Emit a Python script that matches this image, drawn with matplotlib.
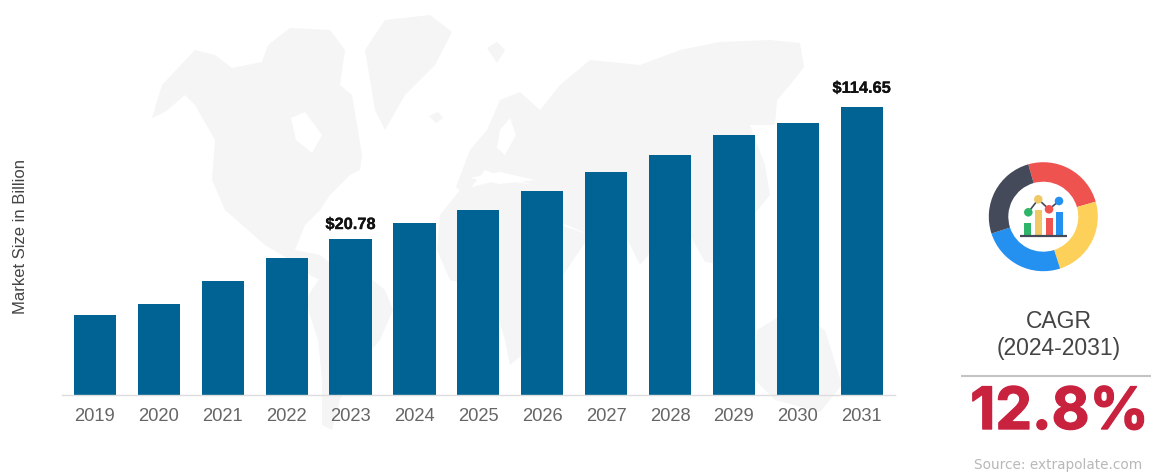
import numpy as np
import matplotlib
matplotlib.use('Agg')
import matplotlib.pyplot as plt
from matplotlib.patches import Polygon, Wedge, Rectangle
from matplotlib import patheffects

plt.rcParams['font.family'] = ['Liberation Sans', 'DejaVu Sans']

years = [2019, 2020, 2021, 2022, 2023, 2024, 2025, 2026, 2027, 2028, 2029, 2030, 2031]
market_size = [3.23, 4.63, 8.67, 14.47, 20.78, 27.28, 33.4, 43.9, 56.2, 69.0, 86.2, 97.8, 114.65]
label_gap = {2023: 5, 2031: 8}
cagr_period = '(2024-2031)'
cagr_value = '12.8%'

# continents for the backdrop, in pixels from the top left corner
north_america = [(152, 118), (162, 85), (195, 50), (215, 55), (232, 68), (262, 62), (268, 45),
                 (290, 28), (330, 30), (345, 50), (340, 85), (352, 95), (358, 130), (362, 155),
                 (360, 170), (350, 175), (330, 195), (320, 210), (305, 225), (295, 250),
                 (320, 255), (345, 275), (340, 290), (310, 275), (290, 260), (265, 245),
                 (225, 210), (212, 180), (215, 140), (195, 105), (185, 95), (165, 112)]
greenland = [(365, 50), (385, 20), (430, 15), (452, 32), (435, 65), (405, 95), (385, 130), (375, 110)]
iceland = [(429, 116), (438, 112), (443, 118), (436, 123)]
svalbard = [(487, 48), (497, 42), (505, 50), (497, 63)]
south_america = [(322, 275), (350, 262), (385, 290), (393, 310), (380, 340), (355, 370), (340, 400),
                 (332, 430), (322, 425), (322, 380), (318, 340), (305, 300)]
africa = [(440, 215), (460, 190), (500, 180), (535, 185), (560, 225), (590, 235), (570, 265),
          (545, 300), (540, 340), (510, 365), (505, 340), (490, 290), (450, 280), (437, 250)]
eurasia = [(456, 187), (470, 150), (487, 130), (500, 100), (520, 92), (540, 110), (560, 85),
           (590, 60), (640, 65), (680, 50), (720, 42), (770, 40), (800, 43), (804, 67),
           (790, 85), (777, 100), (775, 125), (750, 125), (765, 165), (770, 195), (745, 225),
           (725, 265), (705, 262), (690, 235), (665, 235), (640, 265), (620, 225), (590, 235),
           (560, 222), (535, 185), (505, 178), (485, 170), (465, 195)]
australia = [(757, 330), (790, 310), (825, 330), (842, 385), (820, 412), (775, 400), (750, 375)]
continents = [north_america, greenland, iceland, svalbard, south_america, africa, eurasia, australia]

# water inside the land masses
hudson_bay = [(291, 118), (305, 112), (322, 135), (312, 153), (296, 140)]
baltic = [(500, 130), (510, 118), (516, 135), (505, 155), (497, 148)]
mediterranean = [(470, 178), (500, 172), (535, 180), (500, 184)]
inland_water = [hudson_bay, baltic, mediterranean]

fig = plt.figure(figsize=(11.51, 4.74), dpi=100, facecolor='white')


def px_axes(zorder):
    a = fig.add_axes([0, 0, 1, 1], zorder=zorder)
    a.set_xlim(0, 1151)
    a.set_ylim(474, 0)
    a.axis('off')
    return a


back = px_axes(0)
for land in continents:
    back.add_patch(Polygon(land, closed=True, facecolor='#f5f5f5', edgecolor='none'))
for water in inland_water:
    back.add_patch(Polygon(water, closed=True, facecolor='white', edgecolor='none'))

# bars on a power scale, the small years would vanish otherwise
power = 0.359
ax = fig.add_axes([62 / 1151, (474 - 395) / 474, 833 / 1151, 335.3 / 474], zorder=1)
ax.patch.set_alpha(0)
ax.set_yscale('function', functions=(lambda v: np.power(np.maximum(v, 0), power),
                                     lambda v: np.power(np.maximum(v, 0), 1 / power)))
ax.bar(range(len(years)), market_size, width=0.66, color='#006394')
ax.set_xlim(-0.516, 12.52)
ax.set_ylim(0, 175)

for i, (year, value) in enumerate(zip(years, market_size)):
    if year in label_gap:
        t = ax.annotate(f'${value:.2f}', (i, value), xytext=(0, label_gap[year]),
                        textcoords='offset points', ha='center', va='bottom',
                        fontsize=11.8, fontweight='bold', color='#111111')
        t.set_path_effects([patheffects.withStroke(linewidth=0.2, foreground='#111111')])

ax.set_xticks(range(len(years)))
ax.set_xticklabels(years, fontsize=13.2, color='#666666')
ax.tick_params(axis='x', length=0, pad=9.6)
ax.set_yticks([])
ax.yaxis.set_minor_locator(plt.NullLocator())
for side in ['top', 'left', 'right']:
    ax.spines[side].set_visible(False)
ax.spines['bottom'].set_color('#dddddd')
ax.spines['bottom'].set_linewidth(1.0)

panel = px_axes(2)
panel.text(20.5, 236, 'Market Size in Billion', rotation=90, ha='center', va='center',
           fontsize=12, color='#444444')

# round icon with the small chart inside it
cx, cy = 1043.3, 216.7
rings = [(-106, -16, '#ef5350'), (-16, 72, '#fdd05a'), (72, 162, '#2490f0'), (162, 254, '#454a5a')]
for start, end, colour in rings:
    panel.add_patch(Wedge((cx, cy), 54.5, start, end, width=19.5, facecolor=colour, edgecolor='none'))

icon_bars = [(1024.3, 222.7, 7, '#2fb56a'), (1035, 210, 7.3, '#f0c865'),
             (1046, 218.3, 7.3, '#ef5350'), (1056, 211.7, 7, '#2490f0')]
for left, top, w, colour in icon_bars:
    panel.add_patch(Rectangle((left, top), w, 235 - top, facecolor=colour, edgecolor='none'))
panel.plot([1020, 1067.5], [235.5, 235.5], color='#454a5a', lw=1.6, solid_capstyle='butt')
trend_x = [1028.3, 1038.3, 1049, 1059]
trend_y = [212.3, 199.3, 209.3, 201]
panel.plot(trend_x, trend_y, color='#454a5a', lw=1.2)
panel.scatter(trend_x, trend_y, s=38, c=['#2fb56a', '#f0c865', '#ef5350', '#2490f0'],
              linewidths=0, zorder=3)

panel.text(1059, 321.5, 'CAGR', ha='center', va='center', fontsize=16.5, color='#444444')
panel.text(1059, 349, cagr_period, ha='center', va='center', fontsize=16.5, color='#444444')
panel.plot([961, 1151], [375.5, 375.5], color='#c4c4c4', lw=1.5, solid_capstyle='butt')
big = panel.text(1059.5, 414, cagr_value, ha='center', va='center', fontsize=42, fontweight='bold',
                 color='#c8223f', family=['Inter', 'Liberation Sans'])
big.set_path_effects([patheffects.withStroke(linewidth=1.0, foreground='#c8223f')])
panel.text(1058, 465, 'Source: extrapolate.com', ha='center', va='center', fontsize=9.8,
           color='#b8b8b8', family=['DejaVu Sans'])

fig.savefig('out.png', dpi=100)
